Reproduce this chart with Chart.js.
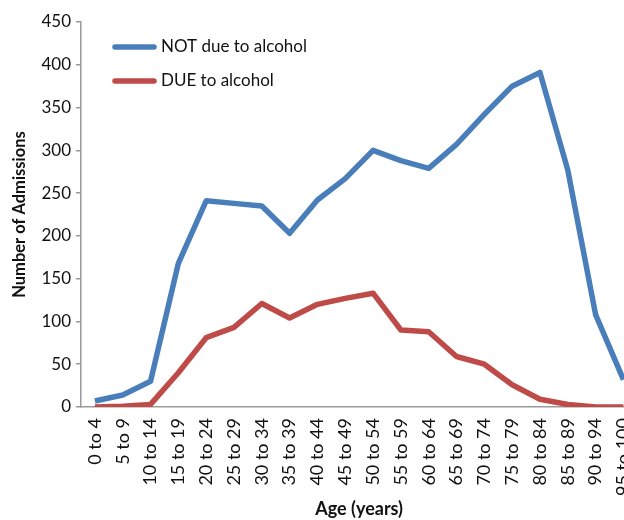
<!DOCTYPE html>
<html>
<head>
<meta charset="utf-8">
<script src="https://cdn.jsdelivr.net/npm/chart.js@4/dist/chart.umd.min.js"></script>
<style>
html,body{margin:0;padding:0;background:#fff;overflow:hidden;width:624px;height:520px;}
#wrap{position:absolute;left:0;top:0;width:660px;height:520px;}
</style>
</head>
<body>
<div id="wrap"><canvas id="c" width="656" height="520"></canvas></div>
<script>
const categories = ["0 to 4","5 to 9","10 to 14","15 to 19","20 to 24","25 to 29","30 to 34","35 to 39","40 to 44","45 to 49","50 to 54","55 to 59","60 to 64","65 to 69","70 to 74","75 to 79","80 to 84","85 to 89","90 to 94","95 to 100"];
const notDueToAlcohol = [7,14,30,168,241,238,235,203,242,267,300,288,279,307,342,375,391,277,108,32];
const dueToAlcohol = [0,1,3,40,81,93,121,104,120,127,133,90,88,59,50,26,9,3,0,0];
const yTicks = [0,50,100,150,200,250,300,350,400,450];

const FONT = "Lato, 'Open Sans', sans-serif";

const insideLegend = {
  id: 'insideLegend',
  afterDraw(chart) {
    const ctx = chart.ctx;
    const ds = chart.data.datasets;
    const x0 = 115, x1 = 154, tx = 161;
    const ys = [47, 81];
    ctx.save();
    ds.forEach((d, i) => {
      ctx.strokeStyle = d.borderColor;
      ctx.lineWidth = 5.5;
      ctx.lineCap = 'round';
      ctx.beginPath();
      ctx.moveTo(x0, ys[i]);
      ctx.lineTo(x1, ys[i]);
      ctx.stroke();
      ctx.fillStyle = '#111';
      ctx.font = '17px ' + FONT;
      ctx.textBaseline = 'middle';
      ctx.textAlign = 'left';
      ctx.fillText(d.label, tx, ys[i]);
    });
    ctx.restore();
  }
};

new Chart(document.getElementById('c'), {
  type: 'line',
  data: {
    labels: categories,
    datasets: [
      {label: 'NOT due to alcohol', data: notDueToAlcohol, borderColor: '#4A7EBB', borderWidth: 5.5, pointRadius: 0, tension: 0, borderJoinStyle: 'round', borderCapStyle: 'butt'},
      {label: 'DUE to alcohol', data: dueToAlcohol, borderColor: '#BE4B48', borderWidth: 5.5, pointRadius: 0, tension: 0, borderJoinStyle: 'round', borderCapStyle: 'butt'}
    ]
  },
  options: {
    responsive: false,
    animation: false,
    events: [],
    layout: {padding: {top: 22, right: 0, left: 0, bottom: 0}},
    plugins: {legend: {display: false}, tooltip: {enabled: false}},
    scales: {
      x: {
        offset: true,
        grid: {display: false, drawTicks: false},
        border: {display: true, color: '#9a9a9a', width: 1.5},
        ticks: {minRotation: 90, maxRotation: 90, autoSkip: false, color: '#111', font: {family: FONT, size: 18}, padding: 11},
        title: {display: true, text: 'Age (years)', color: '#111', font: {family: FONT, size: 18, weight: 'bold'}, padding: {top: 0, bottom: 0}},
        afterFit(s) { s.height = 113; }
      },
      y: {
        min: 0, max: 450,
        afterBuildTicks(s) { s.ticks = yTicks.map(v => ({value: v})); },
        grid: {display: true, drawOnChartArea: false, drawTicks: true, tickLength: 5, color: '#9a9a9a', lineWidth: 1.5},
        border: {display: true, color: '#9a9a9a', width: 1.5},
        ticks: {color: '#111', font: {family: FONT, size: 17}, padding: 5},
        title: {display: true, text: 'Number of Admissions', color: '#111', font: {family: FONT, size: 16.5, weight: 'bold'}, padding: {top: 10, bottom: 0}},
        afterFit(s) { s.width = 81; }
      }
    }
  },
  plugins: [insideLegend]
});
</script>
</body>
</html>
